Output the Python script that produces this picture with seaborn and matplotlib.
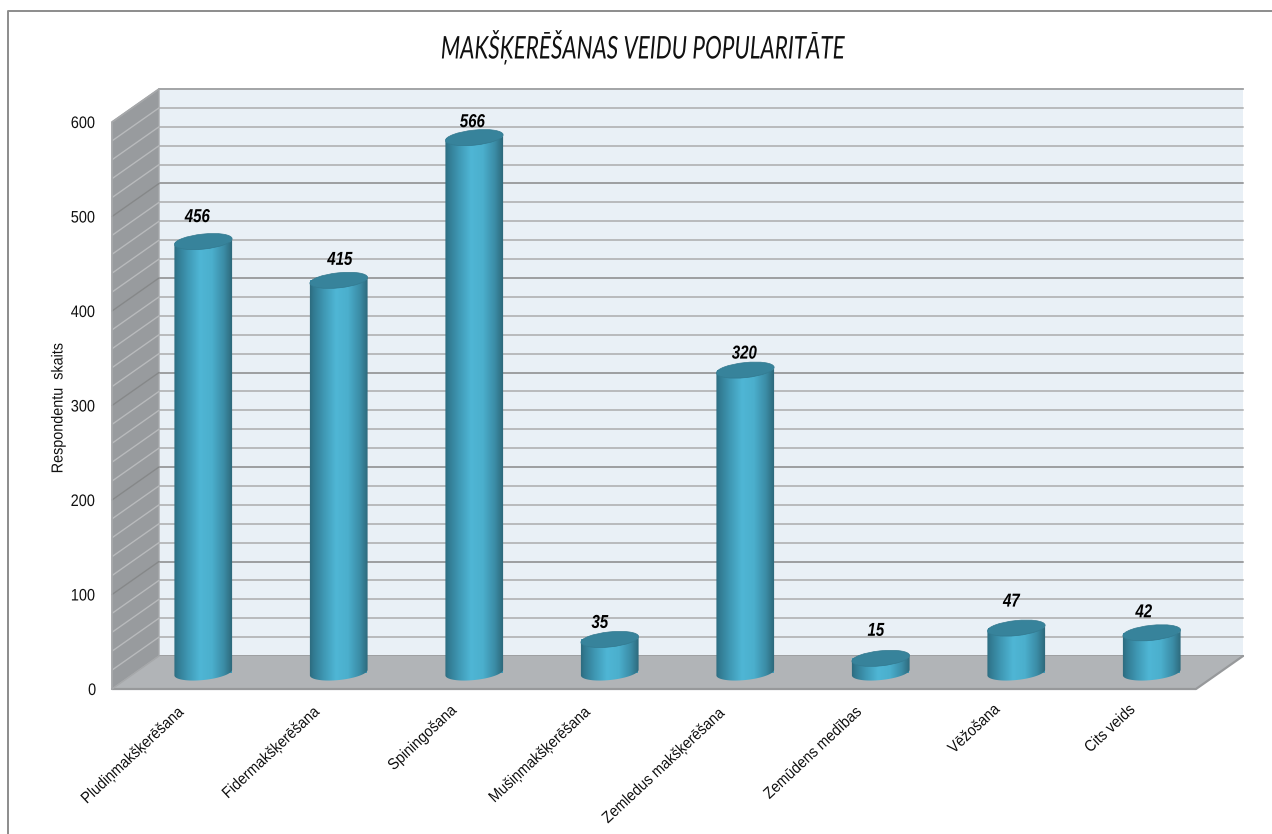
import numpy as np
import matplotlib
matplotlib.use('Agg')
import matplotlib.pyplot as plt
import seaborn as sns
from matplotlib.colors import LinearSegmentedColormap
from matplotlib.lines import Line2D
from matplotlib.patches import Ellipse, PathPatch, Polygon, Rectangle
from matplotlib.path import Path
from matplotlib.patheffects import AbstractPathEffect
from matplotlib.transforms import Affine2D, IdentityTransform, ScaledTranslation

categories = ['Pludiņmakšķerēšana', 'Fidermakšķerēšana', 'Spiningošana',
              'Mušiņmakšķerēšana', 'Zemledus makšķerēšana', 'Zemūdens medības',
              'Vēžošana', 'Cits veids']
respondents = [456, 415, 566, 35, 320, 15, 47, 42]
y_ticks = [0, 100, 200, 300, 400, 500, 600]
minor_grid = list(range(0, 601, 20))

title = 'MAKŠĶERĒŠANAS VEIDU POPULARITĀTE'
y_label = 'Respondentu  skaits'

# where each value label sits relative to the top of its cylinder, in pixels
label_shift = [(-6, 24), (1, 20), (-2, 15), (-10, 16), (-1, 16), (-5, 27), (-5, 26), (-8, 20)]

W, H = 1272, 834
DEPTH_X, DEPTH_Y = 47, 33
BAR_PX, ELLIPSE_PX, TILT = 58, 15, 6


class Narrow(AbstractPathEffect):
    """Squeeze text sideways around its own centre, the reference fonts are narrow."""

    def __init__(self, sx):
        super().__init__()
        self.sx = sx

    def draw_path(self, renderer, gc, tpath, affine, rgbFace=None):
        ext = tpath.get_extents()
        cx = (ext.x0 + ext.x1) / 2
        local = Affine2D().translate(-cx, 0).scale(self.sx, 1).translate(cx, 0)
        renderer.draw_path(gc, tpath, local + affine, rgbFace)


sns.set_theme(style='white', rc={'font.family': ['Liberation Sans', 'DejaVu Sans']})

fig = plt.figure(figsize=(W / 100, H / 100), dpi=100)
ax = fig.add_axes([112 / W, (H - 689) / H, (1196 - 112) / W, (689 - 122) / H])

sns.barplot(x=categories, y=respondents, width=0.42, color='#3f9ab8',
            saturation=1, ax=ax, zorder=2)
ax.set_xlim(-0.5, 7.5)
ax.set_ylim(0, 600)
ax.set_autoscale_on(False)
for side in ax.spines.values():
    side.set_visible(False)
ax.patch.set_alpha(0)

# offsets into the depth of the chart
back = ax.transData + ScaledTranslation(DEPTH_X / 100, DEPTH_Y / 100, fig.dpi_scale_trans)
middle = ax.transData + ScaledTranslation(DEPTH_X / 200, DEPTH_Y / 200, fig.dpi_scale_trans)

# back wall, side wall and floor
ax.add_patch(Rectangle((-0.5, 0), 8, 600, transform=back, color='#e9f0f6', lw=0, zorder=0, clip_on=False))
for v in minor_grid:
    major = v % 100 == 0
    ax.plot([-0.5, 7.5], [v, v], transform=back, clip_on=False, zorder=0.5,
            color='#9c9ea0' if major else '#b8babc', lw=1.4)

to_px = lambda trans, x, y: trans.transform((x, y))
fl, ft = to_px(ax.transData, -0.5, 0), to_px(ax.transData, -0.5, 600)
fr = to_px(ax.transData, 7.5, 0)
bl, bt = to_px(back, -0.5, 0), to_px(back, -0.5, 600)
br, brt = to_px(back, 7.5, 0), to_px(back, 7.5, 600)
ident = IdentityTransform()
ax.add_patch(Polygon([fl, ft, bt, bl], transform=ident, fc='#989b9e', ec='#a6a8aa', lw=1,
                     zorder=0.6, clip_on=False))
for v in minor_grid[1:-1]:
    p0, p1 = to_px(ax.transData, -0.5, v), to_px(back, -0.5, v)
    ax.plot([p0[0], p1[0]], [p0[1], p1[1]], transform=ident, clip_on=False, zorder=0.7,
            color='#868889' if v % 100 == 0 else '#b8babc', lw=1.0)
ax.add_patch(Polygon([fl, fr, br, bl], transform=ident, fc='#b1b4b7', lw=0, zorder=0.8, clip_on=False))
ax.plot([fl[0], fr[0], br[0]], [fl[1], fr[1], br[1]], transform=ident, color='#97999b', lw=1.6,
        clip_on=False, zorder=0.9)
ax.plot([fl[0], ft[0], bt[0], brt[0]], [fl[1], ft[1], bt[1], brt[1]], transform=ident,
        color='#a6a8aa', lw=1.2, clip_on=False, zorder=0.9)
ax.plot([bl[0], fl[0]], [bl[1], fl[1]], transform=ident, color='#a6a8aa', lw=1, clip_on=False, zorder=0.9)

# cylinders: bars from seaborn, shaded and capped
shade = LinearSegmentedColormap.from_list('cyl', [
    (0.0, '#2c687b'), (0.08, '#327b92'), (0.25, '#3f98b4'), (0.45, '#4fb6d5'),
    (0.65, '#4bafcd'), (0.85, '#3b8ca6'), (1.0, '#2c6576')])
gradient = np.linspace(0, 1, 256).reshape(1, -1)

a, b = BAR_PX / 2, ELLIPSE_PX / 2
th = np.radians(TILT)


def rim(cx, cy, t):
    return (cx + a * np.cos(t) * np.cos(th) - b * np.sin(t) * np.sin(th),
            cy + a * np.cos(t) * np.sin(th) + b * np.sin(t) * np.cos(th))


for i, (bar, value) in enumerate(zip(ax.patches, respondents)):
    bar.set_transform(middle)
    bar.set_clip_on(False)
    bar.set_linewidth(0)
    cx, cy_top = middle.transform((i, value))
    _, cy_bot = middle.transform((i, 0))
    t = np.linspace(np.pi, 2 * np.pi, 40)
    xs, ys = rim(cx, cy_bot, t)
    top_xs, top_ys = rim(cx, cy_top, t[::-1])
    pts = np.vstack([np.column_stack([xs, ys]), np.column_stack([top_xs, top_ys])])
    body = PathPatch(Path(np.vstack([pts, pts[0]]), closed=True), transform=ident, fc='none', lw=0)
    ax.add_patch(body)
    body.set_clip_on(False)
    im = ax.imshow(gradient, cmap=shade, aspect='auto', transform=ident, zorder=3,
                   extent=(cx - a - 1, cx + a + 1, cy_bot - b - 2, cy_top + b + 2))
    im.set_clip_path(body)
    ax.add_patch(Ellipse((cx, cy_top), BAR_PX, ELLIPSE_PX, angle=TILT, transform=ident,
                         fc='#37839b', ec='#33798f', lw=0.5, zorder=4, clip_on=False))
    dx, dy = label_shift[i]
    ax.text(cx + dx, cy_top + dy, str(value), transform=ident, ha='center', va='center',
            fontsize=13.5, fontweight='bold', fontstyle='italic', color='black', zorder=5,
            path_effects=[Narrow(0.8)])

ax.set_yticks(y_ticks)
ax.set_xticks(range(len(categories)))
ax.set_xticklabels(categories, rotation=43, ha='right', rotation_mode='anchor', fontsize=11.5, color='#111111')
ax.tick_params(axis='y', length=0, pad=11, labelsize=12, labelcolor='#111111')
ax.tick_params(axis='x', length=0, pad=11)
for lab in ax.get_yticklabels():
    lab.set_path_effects([Narrow(0.87)])
nudge = ScaledTranslation(2 / 100, 5 / 100, fig.dpi_scale_trans)
for lab in ax.get_xticklabels():
    lab.set_path_effects([Narrow(0.9)])
    lab.set_transform(lab.get_transform() + nudge)
ax.set_xlabel('')
ax.set_ylabel('')
fig.text(58 / W, 1 - 408 / H, y_label, rotation=90, ha='center', va='center', fontsize=11.5, color='#111111',
         path_effects=[Narrow(0.9)])

fig.text(643 / W, 1 - 47 / H, title, ha='center', va='center', fontsize=22.5, fontstyle='italic',
         family='Lato', color='#111111', path_effects=[Narrow(0.72)])

# chart frame, the image only shows its left and top sides
fig.add_artist(Line2D([8 / W, 8 / W, 1], [0, 1 - 11 / H, 1 - 11 / H], transform=fig.transFigure,
                      color='#8c8c8c', lw=1.4))

fig.savefig('out.png', dpi=100, facecolor='white')
